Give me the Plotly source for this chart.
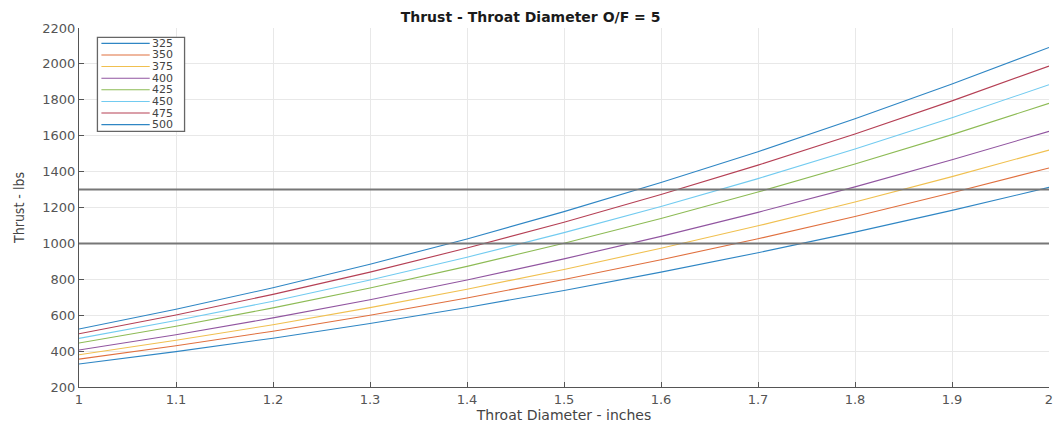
import plotly.graph_objects as go

# ---- data ----
diameter = [1.0, 1.1, 1.2, 1.3, 1.4, 1.5, 1.6, 1.7, 1.8, 1.9, 2.0]
series_names = ["325", "350", "375", "400", "425", "450", "475", "500"]
thrust_325 = [328, 397, 472, 554, 643, 738, 840, 948, 1063, 1184, 1312]
thrust_350 = [355, 430, 511, 600, 696, 799, 909, 1026, 1150, 1282, 1420]
thrust_375 = [380, 460, 547, 642, 745, 855, 973, 1098, 1231, 1372, 1520]
thrust_400 = [406, 491, 585, 686, 796, 914, 1039, 1173, 1315, 1466, 1624]
thrust_425 = [445, 538, 641, 752, 872, 1001, 1139, 1286, 1442, 1606, 1780]
thrust_450 = [471, 570, 678, 796, 923, 1060, 1206, 1361, 1526, 1700, 1884]
thrust_475 = [497, 601, 716, 840, 974, 1118, 1272, 1436, 1610, 1794, 1988]
thrust_500 = [523, 633, 753, 884, 1025, 1177, 1339, 1511, 1695, 1888, 2092]
series_values = [thrust_325, thrust_350, thrust_375, thrust_400,
                 thrust_425, thrust_450, thrust_475, thrust_500]
reference_lines = [1000, 1300]
x_ticks = [1, 1.1, 1.2, 1.3, 1.4, 1.5, 1.6, 1.7, 1.8, 1.9, 2]
x_tick_labels = ["1", "1.1", "1.2", "1.3", "1.4", "1.5", "1.6", "1.7", "1.8", "1.9", "2"]
y_ticks = [200, 400, 600, 800, 1000, 1200, 1400, 1600, 1800, 2000, 2200]

colors = ["#2f86c4", "#e0703f", "#f0c050", "#9155a0",
          "#8dbb55", "#72cbf0", "#b54055", "#2f86c4"]

W, H = 1059, 423
ML, MR, MT, MB = 79, 6, 28, 32
PW, PH = W - ML - MR, H - MT - MB

def px_x(p):
    return (p - ML) / PW

def px_y(p):
    return (H - MB - p) / PH

fig = go.Figure()
for name, vals, c in zip(series_names, series_values, colors):
    fig.add_trace(go.Scatter(x=diameter, y=vals, mode="lines", name=name,
                             line=dict(color=c, width=1.1), showlegend=False))

shapes = []
for yv in reference_lines:
    shapes.append(dict(type="line", xref="x", yref="y", x0=diameter[0], x1=diameter[-1],
                       y0=yv, y1=yv, line=dict(color="#777777", width=2)))

# manual legend box
shapes.append(dict(type="rect", xref="paper", yref="paper",
                   x0=px_x(97.5), x1=px_x(185), y0=px_y(132.5), y1=px_y(37.5),
                   line=dict(color="#666666", width=1.3), fillcolor="white", layer="above"))
annotations = []
for i, (name, c) in enumerate(zip(series_names, colors)):
    yy = 43.5 + i * 11.75
    shapes.append(dict(type="line", xref="paper", yref="paper",
                       x0=px_x(101.5), x1=px_x(150), y0=px_y(yy), y1=px_y(yy),
                       line=dict(color=c, width=1.1), layer="above"))
    annotations.append(dict(xref="paper", yref="paper", x=px_x(151), y=px_y(yy),
                            text=name, showarrow=False, xanchor="left", yanchor="middle",
                            borderpad=0,
                            font=dict(family="DejaVu Sans", size=11, color="#444444")))

fig.update_layout(
    width=W, height=H,
    margin=dict(l=ML, r=MR, t=MT, b=MB),
    paper_bgcolor="white", plot_bgcolor="white",
    font=dict(family="DejaVu Sans", color="#555555"),
    title=dict(text="<b>Thrust - Throat Diameter O/F = 5</b>", x=px_x(567), xanchor="center",
               y=1 - 17 / H, yanchor="middle",
               font=dict(family="DejaVu Sans", size=14, color="#1a1a1a")),
    xaxis=dict(range=[1, 2], tickvals=x_ticks, ticktext=x_tick_labels,
               showgrid=True, gridcolor="#e8e8e8", gridwidth=1,
               showline=True, linecolor="#555555", linewidth=1.2,
               ticks="inside", ticklen=5, tickcolor="#555555",
               tickfont=dict(size=13, color="#555555"), zeroline=False,
               title=dict(text="Throat Diameter - inches", standoff=0,
                          font=dict(size=14, color="#444444"))),
    yaxis=dict(range=[200, 2200], tickvals=y_ticks,
               showgrid=True, gridcolor="#e8e8e8", gridwidth=1,
               showline=True, linecolor="#555555", linewidth=1.2,
               ticks="inside", ticklen=5, tickcolor="#555555",
               tickfont=dict(size=13, color="#555555"), zeroline=False,
               title=dict(text="Thrust - lbs", standoff=14,
                          font=dict(family="DejaVu Sans Condensed, Liberation Sans Narrow, sans-serif",
                                    size=14, color="#444444"))),
    shapes=shapes, annotations=annotations,
    showlegend=False,
)

fig.write_html("out.html")
